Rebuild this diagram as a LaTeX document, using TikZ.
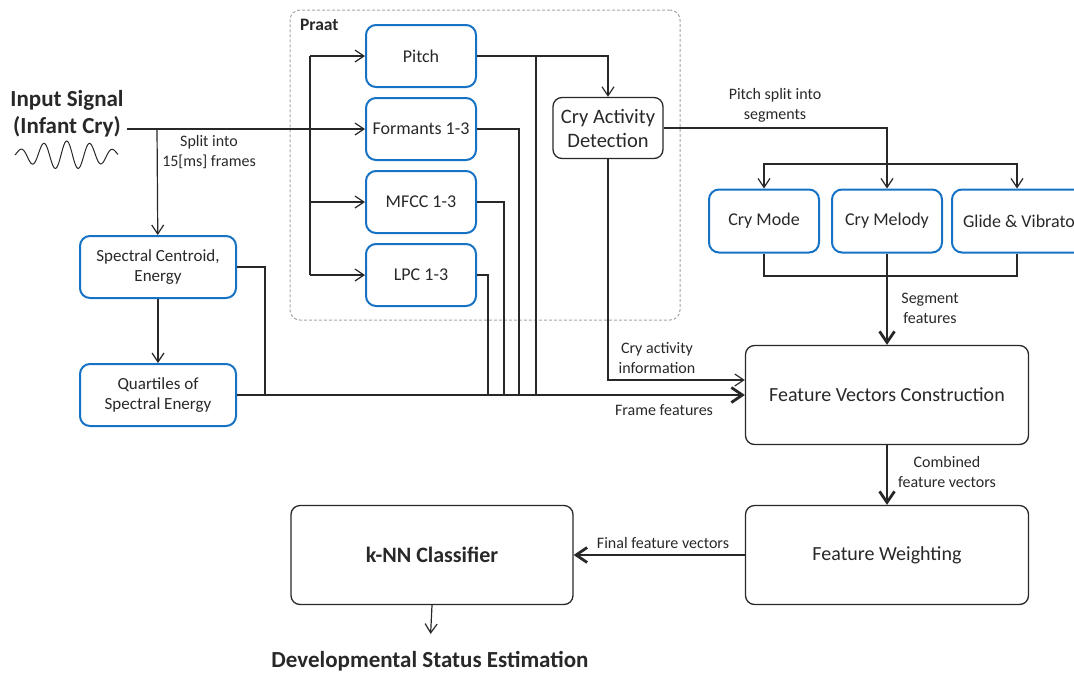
\documentclass[tikz,border=0pt]{standalone}
\usepackage{fontspec}
\setmainfont{Carlito}
\usetikzlibrary{arrows.meta,positioning}

\definecolor{praatblue}{RGB}{22,114,196}
\definecolor{wire}{RGB}{40,40,40}

\begin{document}
\begin{tikzpicture}[x=1pt,y=-1pt,>={Straight Barb[length=9pt,width=12pt]},
  line width=1.2pt,color=wire,node distance=73pt,
  bluebox/.style={draw=praatblue,line width=2pt,rounded corners=10pt,
    minimum width=110pt,minimum height=62pt,font=\fontsize{18}{21}\selectfont},
  plainbox/.style={draw=wire,line width=1.3pt,rounded corners=9pt,align=center},
  bigbox/.style={plainbox,minimum width=283pt,minimum height=99pt,font=\fontsize{20}{24}\selectfont},
  lbl/.style={align=center,font=\fontsize{16}{20}\selectfont,inner sep=0pt},
  bus/.style={line width=2.8pt,-{Straight Barb[length=11pt,width=15pt]}}]
\useasboundingbox (0,0) rectangle (1074,673);

% input signal
\node[align=center,font=\bfseries\fontsize{23}{27}\selectfont] (input) at (67,114) {Input Signal\\(Infant Cry)};
\draw[line width=1pt] plot[domain=15:118,samples=150]
  (\x,{155-(4+10*sin((\x-15)/103*180))*sin((\x-15)/23*360)});

% Praat group
\node[draw=gray!70,dashed,dash pattern=on 3pt off 2pt,line width=1pt,rounded corners=10pt,
  minimum width=390pt,minimum height=310pt] (praat) at (485,165) {};
\node[anchor=north west,font=\bfseries\fontsize{17.5}{20}\selectfont,inner sep=0pt]
  (praatlbl) at ([shift={(10,9)}]praat.north west) {Praat};

\node[bluebox] (pitch) at (421,56) {Pitch};
\node[bluebox] (formants) [below of=pitch] {Formants 1-3};
\node[bluebox] (mfcc) [below of=formants] {MFCC 1-3};
\node[bluebox] (lpc) [below of=mfcc] {LPC 1-3};

\node[plainbox,minimum width=110pt,minimum height=61pt,font=\fontsize{20.5}{24}\selectfont]
  (cad) at (608,128) {Cry Activity\\Detection};

% spectral features
\node[bluebox,align=center,minimum width=156pt,font=\fontsize{17}{20.5}\selectfont]
  (sc) at (158,267) {Spectral Centroid,\\Energy};
\node[bluebox,align=center,minimum width=156pt,font=\fontsize{17}{20.5}\selectfont]
  (quart) at (158,395) {Quartiles of\\Spectral Energy};

% segment features
\node[bluebox,minimum height=63pt] (mode) at (764,221) {Cry Mode};
\node[bluebox,minimum height=63pt] (melody) at (887,221) {Cry Melody};
\node[bluebox,minimum height=63pt,minimum width=134pt]
  (glide) at (1019,221) {Glide \& Vibrato\hspace{7pt}};

\node[bigbox] (fvc) at (887,395) {Feature Vectors Construction};
\node[bigbox] (weight) at (887,555) {Feature Weighting};
\node[bigbox,minimum width=282pt,font=\bfseries\fontsize{22}{26}\selectfont] (knn) at (432,555) {k-NN Classifier};
\node[anchor=base,font=\bfseries\fontsize{23}{27}\selectfont] (status) at (430,667) {Developmental Status Estimation};

% junction points
\coordinate (split) at (157,128);
\coordinate (fan) at (310,128);
\coordinate (dSc) at (265,395);
\coordinate (dLpc) at (488,395);
\coordinate (dMfcc) at (504,395);
\coordinate (dForm) at (519,395);
\coordinate (dPitch) at (536,395);
\coordinate (seghub) at (887,164);
\coordinate (segjoin) at (887,276);

% signal into the extractors
\draw[->] (input.east |- formants) -- (formants);
\draw[->] (split) -- (sc);
\draw[->] (sc) -- (quart);
\draw[->] (fan |- pitch) -- (pitch);
\draw (fan |- pitch) -- (fan |- lpc);
\draw[->] (fan |- mfcc) -- (mfcc);
\draw[->] (fan |- lpc) -- (lpc);

% frame features bus
\draw (sc.east) -| (dSc);
\draw (quart.east) -- (dSc);
\draw (lpc.east) -| (dLpc);
\draw (mfcc.east) -| (dMfcc);
\draw (formants.east) -| (dForm);
\draw (pitch.east -| dPitch) -- (dPitch);
\draw[bus] (dSc) -- (fvc.west);

% pitch to activity detection and segments
\draw[->] (pitch.east) -| (cad.north);
\draw[->] (cad.south) |- ([yshift=15pt]fvc.west);
\draw[->] (cad.east) -| (melody.north);
\draw[->] (seghub) -| (mode.north);
\draw[->] (seghub -| melody.north) -| ([xshift=-2pt]glide.north);
\draw (mode.south) |- (segjoin) -| ([xshift=-2pt]glide.south);
\draw (melody.south) -- (segjoin);
\draw[bus] (segjoin) -- (fvc.north);

% classification
\draw[bus] (fvc.south) -- (weight.north);
\draw[bus] (weight.west) -- (knn.east);
\draw[->,shorten >=13pt] (knn.south) -- (status.north);

% labels
\node[lbl] (splitlbl) at (209,152) {Split into\\15[ms] frames};
\node[lbl] (pitchlbl) at (775,105) {Pitch split into\\segments};
\node[lbl] (seglbl) at (930,308) {Segment\\features};
\node[lbl] (cailbl) at (657,358) {Cry activity\\information};
\node[lbl] (framelbl) at (664,410) {Frame features};
\node[lbl] (comblbl) at (947,472) {Combined\\feature vectors};
\node[lbl] (finallbl) at (663,543) {Final feature vectors};
\end{tikzpicture}
\end{document}
